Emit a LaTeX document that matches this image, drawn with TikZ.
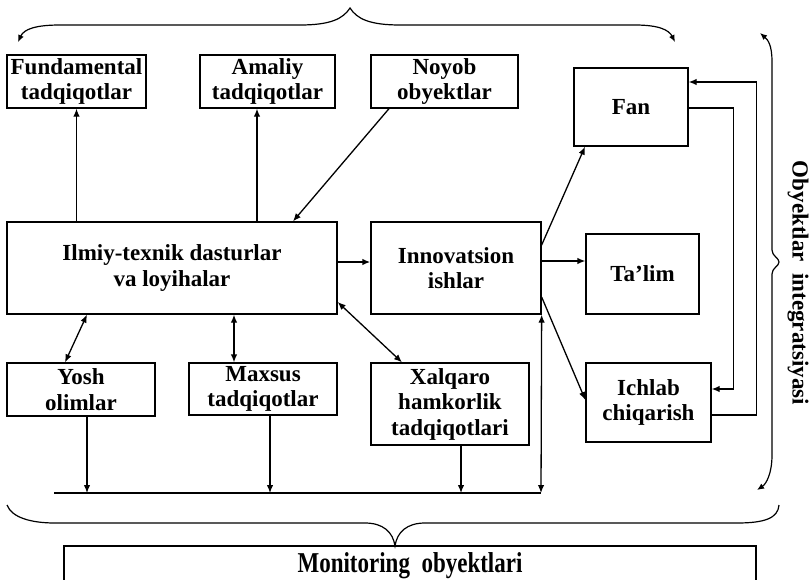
\documentclass[tikz,border=0pt]{standalone}
\usepackage{fontspec}
\setmainfont{Liberation Serif}
\usetikzlibrary{arrows.meta}
\begin{document}
\begin{tikzpicture}[x=1pt,y=-1pt,
  box/.style={draw, line width=1.3pt, align=center, inner sep=0pt,
    font=\fontsize{23}{25.5}\selectfont\bfseries},
  link/.style={line width=1.3pt},
  arr/.style={link, -{Latex[length=8pt,width=6.5pt]}},
  darr/.style={link, {Latex[length=8pt,width=6.5pt]}-{Latex[length=8pt,width=6.5pt]}},
  brace/.style={line width=1.2pt},
  lbl/.style={font=\fontsize{23}{25.5}\selectfont\bfseries, inner sep=0pt}]
\useasboundingbox (0,0) rectangle (810,579);

% upper row
\node[box, minimum width=139pt, minimum height=53pt] (fund) at (76.5,81.5) {Fundamental\\tadqiqotlar};
\node[box, minimum width=135pt, minimum height=53pt] (amal) at (267.5,81.5) {Amaliy\\tadqiqotlar};
\node[box, minimum width=147pt, minimum height=53pt] (noyob) at (444.5,81.5) {Noyob\\obyektlar};

% middle row
\node[box, minimum width=330pt, minimum height=92pt] (ilmiy) at (172,268) {Ilmiy-texnik dasturlar\\va loyihalar};
\node[box, minimum width=170pt, minimum height=92pt] (innov) at (456,268) {Innovatsion\\ishlar};

% right column
\node[box, minimum width=114pt, minimum height=78pt] (fan) at (631,107) {Fan};
\node[box, minimum width=113pt, minimum height=80pt] (talim) at (642.5,274) {Ta’lim};
\node[box, minimum width=125pt, minimum height=79pt] (ichlab) at (648.5,402.5) {Ichlab\\chiqarish};

% lower row
\node[box, minimum width=148pt, minimum height=53pt] (yosh) at (81,389.5) {Yosh\\olimlar};
\node[box, minimum width=148pt, minimum height=52pt] (maxsus) at (263,389) {Maxsus\\tadqiqotlar};
\node[box, minimum width=158pt, minimum height=82pt] (xalq) at (450,404) {Xalqaro\\hamkorlik\\tadqiqotlari};

% monitoring box (runs past the lower edge)
\draw[line width=1.3pt] (64,585) -- (64,546) -- (756,546) -- (756,585);
\node[lbl, yscale=1.25] (mon) at (410,566) {Monitoring\ \ obyektlari};

% side label
\node[lbl, rotate=-90] (integ) at (798,283) {Obyektlar\ \ integratsiyasi};

% links to the upper row
\draw[arr] (ilmiy.north -| fund.south) -- (fund.south);
\coordinate (am) at ([xshift=-10.5pt]amal.south);
\draw[arr] (am |- ilmiy.north) -- (am);
\draw[arr] ([xshift=-55.5pt]noyob.south) -- ([xshift=121pt]ilmiy.north);

% programmes to innovations
\draw[line width=2.6pt, -{Latex[length=8pt,width=6.5pt]}] ([yshift=6pt]ilmiy.east) -- ([yshift=6pt]innov.west);

% innovations to the right column
\draw[arr] ([yshift=23pt]innov.east) -- ([xshift=-46pt]fan.south);
\coordinate (tl) at ([yshift=7pt]innov.east);
\draw[arr] (tl) -- (tl -| talim.west);
\draw[arr] ([yshift=-29pt]innov.east) -- ([yshift=2.5pt]ichlab.west);

% feedback loop between Fan and Ichlab chiqarish
\draw[arr] ([yshift=-1pt]fan.east) -- ++(45,0) |- ([yshift=13.5pt]ichlab.east);
\draw[arr] ([yshift=-12.5pt]ichlab.east) -- ++(45,0) |- ([yshift=25pt]fan.east);

% links to the lower row
\draw[darr] ([xshift=-85pt]ilmiy.south) -- ([xshift=-16pt]yosh.north);
\draw[darr] ([xshift=62pt]ilmiy.south) -- ([xshift=-29pt]maxsus.north);
\draw[darr] ([yshift=-34pt]ilmiy.east) -- ([xshift=-48pt]xalq.north);

% collecting bus
\coordinate (busL) at (54,493);
\coordinate (busR) at (541,493);
\draw[link] (busL) -- (busR);
\coordinate (y1) at ([xshift=6pt]yosh.south);
\draw[arr] (y1) -- (y1 |- busL);
\coordinate (m1) at ([xshift=7pt]maxsus.south);
\draw[arr] (m1) -- (m1 |- busL);
\coordinate (x1) at ([xshift=11pt]xalq.south);
\draw[arr] (x1) -- (x1 |- busL);
\draw[darr] (busR) -- (innov.south east);

% braces
\draw[brace, {Latex[length=7pt,width=6pt]}-{Latex[length=7pt,width=6pt]}]
  (18,42) .. controls (24,29) and (36,25) .. (60,25) -- (300,25)
  .. controls (330,25) and (343,19) .. (350,8)
  .. controls (357,19) and (370,25) .. (400,25) -- (635,25)
  .. controls (659,25) and (669,30) .. (675,42);
\draw[brace, {Latex[length=7pt,width=6pt]}-{Latex[length=7pt,width=6pt]}]
  (760,33) .. controls (768,40) and (772,45) .. (772,62) -- (772,250)
  .. controls (772,256) and (779,258) .. (779,262)
  .. controls (779,266) and (772,268) .. (772,274) -- (772,455)
  .. controls (772,474) and (766,484) .. (757,490);
\draw[brace]
  (7,505) .. controls (12,518) and (32,523) .. (55,523) -- (365,523)
  .. controls (383,523) and (393,532) .. (395,546)
  .. controls (397,532) and (407,523) .. (425,523) -- (737,523)
  .. controls (765,523) and (778,518) .. (779,505);
\end{tikzpicture}
\end{document}
